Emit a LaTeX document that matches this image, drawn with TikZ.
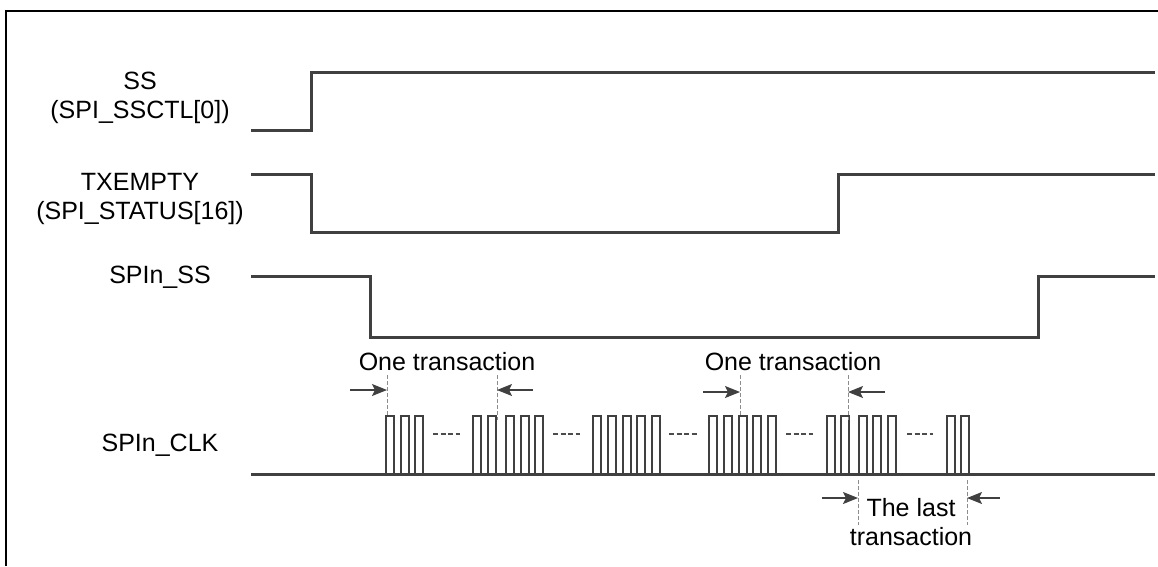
\documentclass[tikz,border=0pt]{standalone}
\usepackage{fontspec}
\setmainfont{Liberation Sans}
\usetikzlibrary{arrows.meta}
\tikzset{
  sig/.style={line width=3pt, draw=black!75, line join=miter},
  clk/.style={line width=2pt, draw=black!75},
  dots/.style={line width=2pt, draw=black!70, dash pattern=on 5pt off 2.5pt},
  guide/.style={line width=1pt, draw=black!45, dash pattern=on 4pt off 2pt},
  marker/.style={line width=1.2pt, draw=black!75, -{Stealth[length=15pt,width=12pt,inset=3pt]}},
  lbl/.style={font=\fontsize{25}{29}\selectfont, align=center, inner sep=0pt},
  frame/.style={line width=2pt, draw=black}
}
\begin{document}
\begin{tikzpicture}[x=1pt,y=-1pt]
\useasboundingbox (0,0) rectangle (1158,566);
% frame
\draw[frame] (6,566) -- (6,11) -- (1158,11);
% labels
\node[lbl] (lss) at (140,98) {SS\\(SPI\_SSCTL[0])};
\node[lbl] (ltx) at (140,199) {TXEMPTY\\(SPI\_STATUS[16])};
\node[lbl] (lspiss) at (160,277) {SPIn\_SS};
\node[lbl] (lclk) at (160,445) {SPIn\_CLK};
% SS
\draw[sig] (251,130) -- (311,130) -- (311,72) -- (1155,72);
% TXEMPTY
\draw[sig] (251,174) -- (311,174) -- (311,232) -- (838,232) -- (838,174) -- (1155,174);
% SPIn_SS
\draw[sig] (251,276) -- (370,276) -- (370,337) -- (1038,337) -- (1038,276) -- (1155,276);
% CLK baseline
\draw[sig] (251,474) -- (1155,474);
% pulses
\foreach \px in {386,401,415,473,488,506,521,535,593,608,623,637,652,709,724,739,753,768,827,841,859,873,888,947,961}{
  \draw[clk] (\px,474) -- (\px,416) -- (\px+8,416) -- (\px+8,474);
}
% continuation dots
\foreach \a/\b in {433/460,553/580,669/697,786/813,907/933}{
  \draw[dots] (\a,434) -- (\b,434);
}
% guides
\coordinate (g1t) at (387,375); \coordinate (g1b) at (387,416);
\coordinate (g2t) at (497,375); \coordinate (g2b) at (497,420);
\coordinate (g3t) at (740,375); \coordinate (g3b) at (740,416);
\coordinate (g4t) at (848,375); \coordinate (g4b) at (848,420);
\coordinate (g5t) at (858,480); \coordinate (g5b) at (858,525);
\coordinate (g6t) at (967,480); \coordinate (g6b) at (967,525);
\foreach \g in {1,...,6}{ \draw[guide] (g\g t) -- (g\g b); }
% arrows
\coordinate (a1) at (350,390); \coordinate (a1e) at (387,390);
\coordinate (a2) at (533,390); \coordinate (a2e) at (497,390);
\coordinate (a3) at (703,392); \coordinate (a3e) at (740,392);
\coordinate (a4) at (885,392); \coordinate (a4e) at (848,392);
\coordinate (a5) at (822,498); \coordinate (a5e) at (858,498);
\coordinate (a6) at (1000,498); \coordinate (a6e) at (967,498);
\foreach \g in {1,...,6}{ \draw[marker] (a\g) -- (a\g e); }
% transaction labels
\node[lbl] (t1) at (447,362) {One transaction};
\node[lbl] (t2) at (793,362) {One transaction};
\node[lbl] (t3) at (911,522) {The last\\transaction};
\end{tikzpicture}
\end{document}
